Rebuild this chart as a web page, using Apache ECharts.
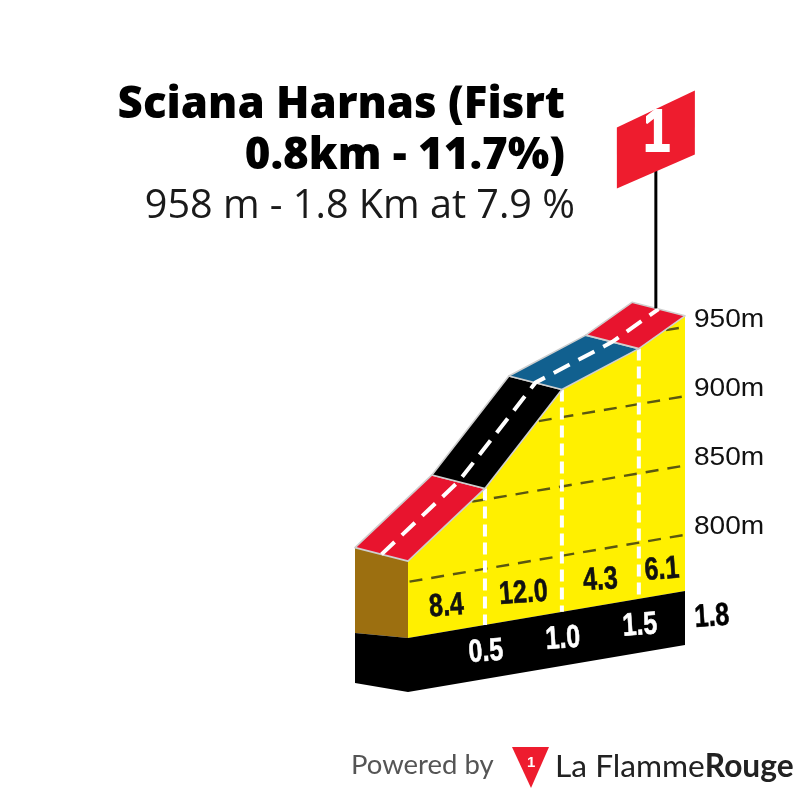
<!DOCTYPE html>
<html>
<head>
<meta charset="utf-8">
<style>html,body{margin:0;padding:0;background:#fff}#c{width:800px;height:796px}</style>
<script src="https://cdn.jsdelivr.net/npm/echarts@6/dist/echarts.min.js"></script>
</head>
<body>
<div id="c"></div>
<script>
const titleLines = ['Sciana Harnas (Fisrt', '0.8km - 11.7%)'];
const subtitle = '958 m - 1.8 Km at 7.9 %';
const profileKm = [0, 0.5, 0.84, 1.0, 1.5, 1.8];
const profileAlt = [815, 858, 900, 920, 940, 958];
const segmentStart = [0, 0.5, 1.0, 1.5];
const segmentEnd = [0.5, 1.0, 1.5, 1.8];
const segmentGradient = ['8.4', '12.0', '4.3', '6.1'];
const segmentColor = ['#e8142e', '#000000', '#11608f', '#e8142e'];
const altTicks = [800, 850, 900, 950];
const kmTicks = [0.5, 1.0, 1.5];
const totalKm = 1.8;
const baseAlt = 759.5;
const bandAlt = 720.5;
const flagNumber = '1';

const SHEAR = -0.17;
const DEPTH = [-53, -13.5];
const altAt = km => {
  for (let i = 1; i < profileKm.length; i++) {
    if (km <= profileKm[i]) {
      const t = (km - profileKm[i - 1]) / (profileKm[i] - profileKm[i - 1]);
      return profileAlt[i - 1] + t * (profileAlt[i] - profileAlt[i - 1]);
    }
  }
  return profileAlt[profileAlt.length - 1];
};
const kmAtAlt = alt => {
  for (let i = 1; i < profileAlt.length; i++) {
    if (alt <= profileAlt[i]) {
      const t = (alt - profileAlt[i - 1]) / (profileAlt[i] - profileAlt[i - 1]);
      return profileKm[i - 1] + Math.max(0, t) * (profileKm[i] - profileKm[i - 1]);
    }
  }
  return totalKm;
};
const projector = api => {
  const x0 = api.coord([0, 800])[0];
  return (km, alt) => {
    const c = api.coord([km, alt]);
    return [c[0], c[1] + SHEAR * (c[0] - x0)];
  };
};
const shift = (p, f) => [p[0] + DEPTH[0] * f, p[1] + DEPTH[1] * f];
const base = { type: 'custom', coordinateSystem: 'cartesian2d', silent: true, clip: false, animation: false };
const dashWhite = (a, b, width, dash) => ({
  type: 'line', shape: { x1: a[0], y1: a[1], x2: b[0], y2: b[1] },
  style: { stroke: '#fff', lineWidth: width, lineDash: dash, fill: null }
});
const narrowText = (text, x, y, fill, size) => ({
  type: 'text', x, y, rotation: 0.07, scaleX: 0.78, scaleY: 1,
  style: { text, x: 0, y: 0, align: 'center', verticalAlign: 'middle', fontFamily: 'Liberation Sans', fontWeight: 'bold', fontSize: size, fill, stroke: fill, lineWidth: 0.6 }
});

const chart = echarts.init(document.getElementById('c'), null, { renderer: 'canvas' });
chart.setOption({
  backgroundColor: '#fff',
  animation: false,
  title: [
    { text: titleLines[0], right: 230, top: 79, textStyle: { fontFamily: 'Open Sans', fontWeight: 800, fontSize: 43.8, color: '#000' } },
    { text: titleLines[1], right: 230, top: 130, textStyle: { fontFamily: 'Open Sans', fontWeight: 800, fontSize: 43.8, color: '#000' } },
    { text: subtitle, right: 220, top: 182, textStyle: { fontFamily: 'Open Sans', fontWeight: 400, fontSize: 39.6, color: '#1a1a1a' } }
  ],
  grid: { left: 408, width: 277, top: 304.7, height: 415.8 },
  xAxis: { type: 'value', min: 0, max: totalKm, show: false },
  yAxis: { type: 'value', min: 700, max: 1000, show: false },
  series: [
    Object.assign({}, base, {
      name: 'Terrain', z: 1, data: [[0, baseAlt]],
      renderItem(params, api) {
        const P = projector(api);
        const top = profileKm.map((k, i) => P(k, profileAlt[i]));
        const b0 = P(0, baseAlt), b1 = P(totalKm, baseAlt);
        const d0 = P(0, bandAlt), d1 = P(totalKm, bandAlt);
        return { type: 'group', children: [
          { type: 'polygon', shape: { points: top.concat([b1, b0]) }, style: { fill: '#fff000' } },
          { type: 'polygon', shape: { points: [shift(top[0], 1), top[0], b0, [b0[0] + DEPTH[0], b0[1] - 5]] }, style: { fill: '#9c6f10' } },
          { type: 'polygon', shape: { points: [b0, b1, d1, d0, [d0[0] + DEPTH[0], d0[1] - 9], [b0[0] + DEPTH[0], b0[1] - 5]] }, style: { fill: '#000' } }
        ] };
      }
    }),
    Object.assign({}, base, {
      name: 'Altitude grid', z: 2, data: altTicks.map(a => [totalKm, a]),
      renderItem(params, api) {
        const alt = api.value(1);
        const P = projector(api);
        const a = P(kmAtAlt(alt) + 0.01, alt), b = P(totalKm, alt);
        const end = P(totalKm, alt);
        return { type: 'group', children: [
          { type: 'line', shape: { x1: a[0], y1: a[1], x2: b[0], y2: b[1] }, style: { stroke: '#5a5710', lineWidth: 2.4, lineDash: [13, 9] } },
          { type: 'text', x: end[0] + 9, y: end[1] - 7.5, scaleX: 1.08, scaleY: 1, style: { text: alt + 'm', x: 0, y: 0, align: 'left', verticalAlign: 'middle', fontFamily: 'Liberation Sans', fontSize: 26, fill: '#111' } }
        ] };
      }
    }),
    Object.assign({}, base, {
      name: 'Km marks', z: 3, data: kmTicks.map(k => [k, baseAlt]),
      renderItem(params, api) {
        const km = api.value(0);
        const P = projector(api);
        const t = P(km, altAt(km)), b = P(km, baseAlt);
        return { type: 'group', children: [
          dashWhite(t, b, 4, [12, 6]),
          narrowText(km.toFixed(1), b[0] + 1, b[1] + 27, '#fff', 32)
        ] };
      }
    }),
    Object.assign({}, base, {
      name: 'Total distance', z: 3, data: [[totalKm, baseAlt]],
      renderItem(params, api) {
        const P = projector(api);
        const b = P(api.value(0), api.value(1));
        return narrowText(totalKm.toFixed(1), b[0] + 27, b[1] + 26, '#000', 32);
      }
    }),
    Object.assign({}, base, {
      name: 'Gradient', z: 4, data: segmentGradient.map((g, i) => [(segmentStart[i] + segmentEnd[i]) / 2, baseAlt, g]),
      encode: { x: 0, y: 1 },
      renderItem(params, api) {
        const P = projector(api);
        const b = P(api.value(0), api.value(1));
        return narrowText(segmentGradient[params.dataIndex], b[0], b[1] - 25, '#111', 32);
      }
    }),
    Object.assign({}, base, {
      name: 'Road', z: 5, data: segmentStart.map((s, i) => [s, segmentEnd[i]]),
      renderItem(params, api) {
        const s = api.value(0), e = api.value(1);
        const P = projector(api);
        const kms = [s].concat(profileKm.filter(k => k > s && k < e), [e]);
        const front = kms.map(k => P(k, altAt(k)));
        const back = front.map(p => shift(p, 1)).reverse();
        return { type: 'polygon', shape: { points: front.concat(back) }, style: { fill: segmentColor[params.dataIndex], stroke: '#cfcfcf', lineWidth: 1.6, lineJoin: 'round' } };
      }
    }),
    Object.assign({}, base, {
      name: 'Centre line', z: 6, data: [[0, profileAlt[0]]],
      renderItem(params, api) {
        const P = projector(api);
        const pts = profileKm.map((k, i) => shift(P(k, profileAlt[i]), 0.5));
        return { type: 'polyline', shape: { points: pts }, style: { stroke: '#fff', fill: null, lineWidth: 4, lineDash: [18, 10] } };
      }
    }),
    Object.assign({}, base, {
      name: 'Summit flag', z: 7, data: [[totalKm, profileAlt[profileAlt.length - 1]]],
      renderItem(params, api) {
        const P = projector(api);
        const s = shift(P(api.value(0), api.value(1)), 0.55);
        const x = s[0], y = s[1];
        return { type: 'group', children: [
          { type: 'line', shape: { x1: x, y1: y, x2: x, y2: y - 140 }, style: { stroke: '#000', lineWidth: 3 } },
          { type: 'polygon', shape: { points: [[x - 39, y - 181], [x + 39, y - 218], [x + 39, y - 154], [x - 39, y - 120]] }, style: { fill: '#ee1c2e' } },
          { type: 'text', x: x + 1, y: y - 174, scaleX: 0.8, scaleY: 1, style: { text: flagNumber, x: 0, y: 0, align: 'center', verticalAlign: 'middle', fontFamily: 'Liberation Sans', fontWeight: 'bold', fontSize: 60, fill: '#fff', stroke: '#fff', lineWidth: 2 } }
        ] };
      }
    })
  ],
  graphic: [
    { type: 'text', left: 351, top: 751, style: { text: 'Powered by', fontFamily: 'Lato', fontSize: 27.5, fill: '#555' } },
    { type: 'polygon', shape: { points: [[512, 747], [549, 747], [531, 788]] }, style: { fill: '#ee1c2e' } },
    { type: 'text', left: 527, top: 755, style: { text: '1', fontFamily: 'Liberation Sans', fontWeight: 'bold', fontSize: 15, fill: '#fff' } },
    { type: 'text', left: 555, top: 751, style: { rich: { a: { fontFamily: 'Lato', fontWeight: 400, fontSize: 31.7, fill: '#222' }, b: { fontFamily: 'Lato', fontWeight: 700, fontSize: 31.7, fill: '#222' } }, text: '{a|La Flamme}{b|Rouge}' } }
  ]
});
</script>
</body>
</html>
